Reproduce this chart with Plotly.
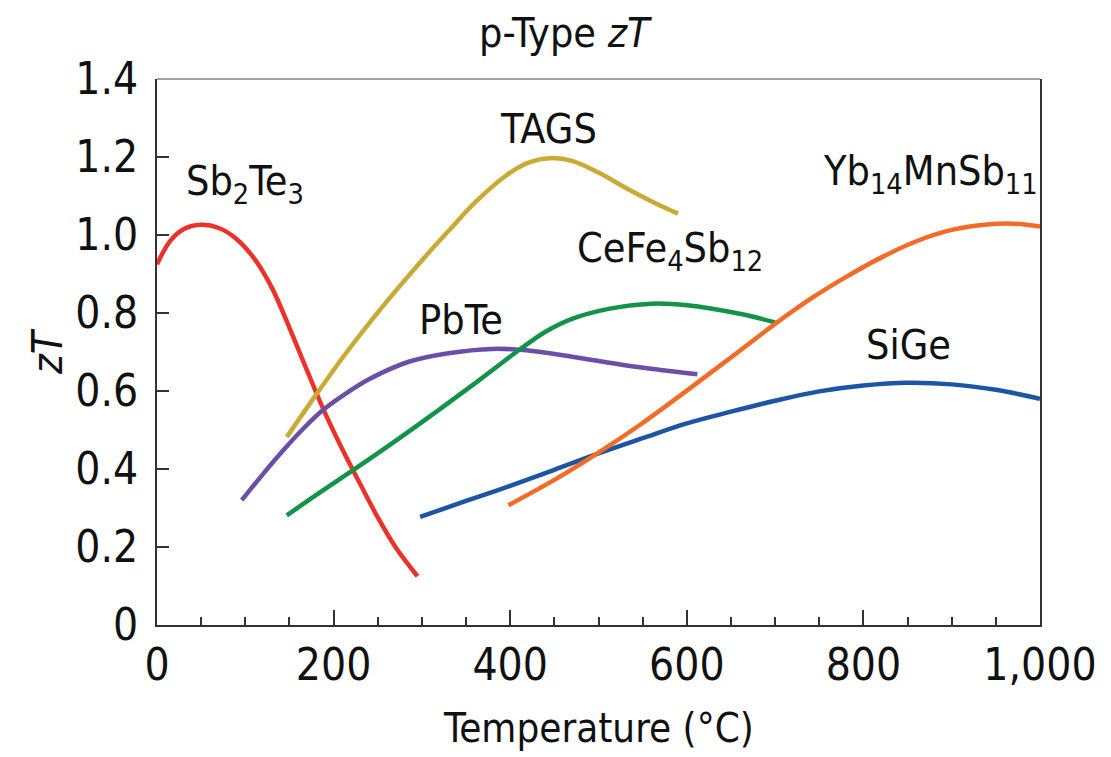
import plotly.graph_objects as go

# p-type thermoelectric figure of merit vs temperature
sb2te3_t = [0, 15, 30, 50, 70, 90, 110, 130, 150, 170, 190, 210, 230, 250, 270, 295]
sb2te3_zt = [0.925, 0.985, 1.015, 1.026, 1.018, 0.99, 0.94, 0.865, 0.762, 0.652, 0.545,
             0.45, 0.362, 0.276, 0.2, 0.125]

tags_t = [147, 180, 215, 255, 295, 330, 360, 395, 420, 445, 470, 500, 530, 565, 590]
tags_zt = [0.482, 0.59, 0.70, 0.815, 0.922, 1.01, 1.083, 1.152, 1.185, 1.197, 1.19, 1.16,
           1.122, 1.081, 1.055]

pbte_t = [96, 120, 143, 165, 188, 215, 240, 285, 330, 380, 415, 470, 530, 570, 612]
pbte_zt = [0.32, 0.387, 0.448, 0.502, 0.551, 0.595, 0.63, 0.675, 0.697, 0.708, 0.705, 0.688,
           0.666, 0.654, 0.643]

cefe_t = [147, 180, 222, 275, 320, 365, 410, 440, 470, 510, 560, 600, 660, 700]
cefe_zt = [0.281, 0.333, 0.397, 0.48, 0.553, 0.628, 0.705, 0.752, 0.785, 0.81, 0.824, 0.82,
           0.798, 0.776]

sige_t = [298, 350, 400, 450, 500, 550, 600, 650, 700, 750, 800, 850, 900, 950, 1000]
sige_zt = [0.277, 0.318, 0.357, 0.398, 0.44, 0.479, 0.517, 0.547, 0.575, 0.599, 0.614, 0.621,
           0.617, 0.603, 0.58]

yb_t = [398, 450, 500, 550, 600, 650, 700, 740, 780, 820, 860, 900, 940, 970, 1000]
yb_zt = [0.307, 0.372, 0.442, 0.518, 0.601, 0.686, 0.772, 0.836, 0.892, 0.942, 0.984, 1.013,
         1.027, 1.029, 1.022]

x_ticks = [0, 200, 400, 600, 800, 1000]
x_tick_text = ["0", "200", "400", "600", "800", "1,000"]
y_ticks = [0, 0.2, 0.4, 0.6, 0.8, 1.0, 1.2, 1.4]
y_tick_text = ["0", "0.2", "0.4", "0.6", "0.8", "1.0", "1.2", "1.4"]

FONT = "DejaVu Sans Condensed, Liberation Sans Narrow, Liberation Sans, Arial, sans-serif"
INK = "#111111"
AXIS = "#333333"

series = [
    (sb2te3_t, sb2te3_zt, "#e8322a", "Sb<sub>2</sub>Te<sub>3</sub>", 31, 1.13),
    (tags_t, tags_zt, "#c8aa35", "TAGS", 386, 1.272),
    (pbte_t, pbte_zt, "#6b4fa6", "PbTe", 295, 0.782),
    (cefe_t, cefe_zt, "#13934a", "CeFe<sub>4</sub>Sb<sub>12</sub>", 473, 0.959),
    (sige_t, sige_zt, "#1c55a3", "SiGe", 801, 0.718),
    (yb_t, yb_zt, "#f26c27", "Yb<sub>14</sub>MnSb<sub>11</sub>", 752, 1.157),
]

fig = go.Figure()
annotations = []
for t, zt, color, label, lx, ly in series:
    fig.add_trace(go.Scatter(
        x=t, y=zt, mode="lines",
        line=dict(color=color, width=4.5, shape="spline", smoothing=1.0),
        showlegend=False, hoverinfo="skip",
    ))
    annotations.append(dict(
        x=lx, y=ly, xref="x", yref="y", text=label, showarrow=False,
        xanchor="left", yanchor="middle",
        font=dict(family=FONT, size=41, color=INK),
    ))

annotations += [
    dict(x=0.463, y=1, xref="paper", yref="paper", text="p-Type <i>zT</i>",
         showarrow=False, xanchor="center", yanchor="bottom", yshift=20,
         font=dict(family=FONT, size=41, color=INK)),
    dict(x=0.5, y=0, xref="paper", yref="paper", text="Temperature (°C)",
         showarrow=False, xanchor="center", yanchor="top", yshift=-78,
         font=dict(family=FONT, size=40, color=INK)),
    dict(x=0, y=0.5, xref="paper", yref="paper", text="<i>zT</i>",
         showarrow=False, xanchor="center", yanchor="middle", xshift=-110,
         textangle=-90, font=dict(family=FONT, size=42, color=INK)),
]

fig.update_layout(
    width=1111, height=757,
    margin=dict(l=157, r=71, t=79, b=132),
    paper_bgcolor="white", plot_bgcolor="white",
    annotations=annotations,
    shapes=[dict(type="line", xref="paper", yref="paper", x0=0, x1=1, y0=1, y1=1,
                 line=dict(color="#444444", width=1.2))],
    font=dict(family=FONT, size=44, color=INK),
)
fig.update_xaxes(
    range=[0, 1000], showgrid=False, zeroline=False,
    showline=True, linecolor=AXIS, linewidth=2,
    ticks="inside", ticklen=15, tickwidth=2, tickcolor=AXIS,
    tickvals=x_ticks, ticktext=x_tick_text, ticklabelstandoff=0,
    minor=dict(ticks="inside", ticklen=8, tickwidth=2, tickcolor=AXIS, dtick=50,
               showgrid=False),
    tickfont=dict(family=FONT, size=44, color=INK),
)
fig.update_yaxes(
    range=[0, 1.4], showgrid=False, zeroline=False,
    showline=True, linecolor=AXIS, linewidth=2, mirror=True,
    ticks="inside", ticklen=12, tickwidth=2, tickcolor=AXIS,
    tickvals=y_ticks, ticktext=y_tick_text, ticklabelstandoff=8,
    tickfont=dict(family=FONT, size=44, color=INK),
)

fig.write_html("out.html")
